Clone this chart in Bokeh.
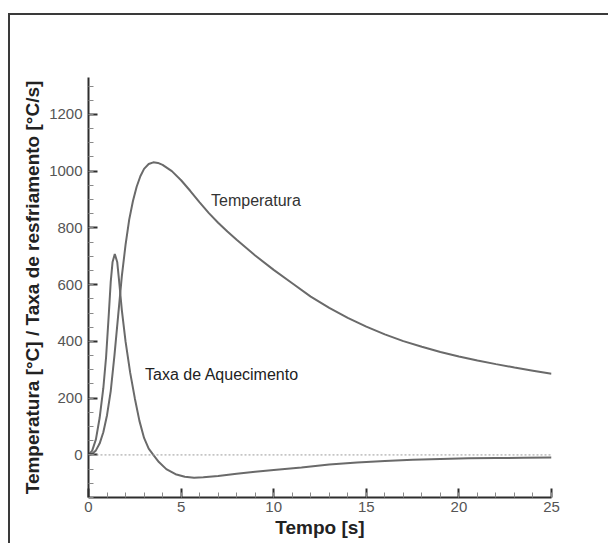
from bokeh.plotting import figure
from bokeh.models import Span, Range1d, SingleIntervalTicker, Label
from bokeh.embed import file_html
from bokeh.resources import INLINE

# Temperature curve [°C] vs time [s]
tempo_temp = [0, 0.2, 0.4, 0.6, 0.8, 1.0, 1.2, 1.4, 1.6, 1.8, 2.0, 2.2, 2.4, 2.6, 2.8,
              3.0, 3.25, 3.5, 3.75, 4.0, 4.5, 5.0, 5.5, 6.0, 6.5, 7.0, 7.5, 8.0, 9.0,
              10.0, 11.0, 12.0, 13.0, 14.0, 15.0, 16.0, 17.0, 18.0, 19.0, 20.0, 21.0,
              22.0, 23.0, 24.0, 25.0]
temperatura = [0, 4, 16, 40, 80, 140, 225, 350, 490, 630, 740, 830, 895, 945, 982,
               1008, 1025, 1031, 1029, 1022, 1000, 968, 930, 890, 852, 818, 787, 758, 703,
               652, 605, 558, 518, 483, 452, 425, 401, 381, 363, 347, 333,
               320, 308, 297, 286]

# Heating / cooling rate curve [°C/s] vs time [s]
tempo_taxa = [0, 0.2, 0.4, 0.6, 0.8, 0.95, 1.1, 1.2, 1.3, 1.42, 1.55, 1.65, 1.8, 2.0,
              2.25, 2.5, 2.75, 3.0, 3.25, 3.5, 3.8, 4.2, 4.7, 5.2, 5.7, 6.2, 7.0, 8.0,
              9.0, 10.0, 11.5, 13.0, 14.5, 16.0, 17.5, 19.0, 20.5, 22.0, 23.5, 25.0]
taxa = [0, 15, 55, 130, 235, 345, 500, 610, 680, 708, 680, 615, 510, 400,
        290, 200, 120, 60, 22, 0, -25, -50, -68, -77, -80, -79, -74, -66,
        -59, -53, -44, -34, -27, -21, -17, -14, -12, -11, -10, -9]

x_title = "Tempo [s]"
y_title = "Temperatura [°C] / Taxa de resfriamento [°C/s]"
label_temp = "Temperatura"
label_taxa = "Taxa de Aquecimento"

FONT = "Liberation Sans"
CURVE = "#6a6a6a"
AXIS = "#2e2e2e"

p = figure(width=600, height=530, output_backend="svg", toolbar_location=None,
           x_range=Range1d(0, 25), y_range=Range1d(-150, 1330),
           min_border_left=78, min_border_right=59, min_border_top=62,
           min_border_bottom=48)
p.styles = {"margin-top": "13px", "margin-left": "8px",
            "border-top": "2px solid #3a3a3a", "border-left": "2px solid #3a3a3a",
            "border-right": "0px none", "border-bottom": "0px none",
            "outline": "none", "overflow": "hidden"}
p.outline_line_color = None
p.xgrid.visible = False
p.ygrid.visible = False
p.background_fill_color = "white"
p.border_fill_color = "white"

p.xaxis.ticker = SingleIntervalTicker(interval=5, num_minor_ticks=5)
p.yaxis.ticker = SingleIntervalTicker(interval=200, num_minor_ticks=4)

for ax in (p.xaxis, p.yaxis):
    ax.axis_line_color = AXIS
    ax.axis_line_width = 2
    ax.major_tick_in = 9
    ax.major_tick_out = 0
    ax.major_tick_line_color = AXIS
    ax.major_tick_line_width = 2
    ax.minor_tick_in = 5
    ax.minor_tick_out = 0
    ax.minor_tick_line_color = "#8a8a8a"
    ax.minor_tick_line_width = 1
    ax.major_label_text_font = FONT
    ax.major_label_text_font_size = "15px"
    ax.major_label_text_color = "#555555"
    ax.axis_label_text_font = FONT
    ax.axis_label_text_font_style = "bold"
    ax.axis_label_text_color = "#222222"

p.xaxis.axis_label = x_title
p.xaxis.axis_label_text_font_size = "19px"
p.xaxis.major_label_standoff = 4
p.xaxis.axis_label_standoff = 2
p.yaxis.axis_label = y_title
p.yaxis.axis_label_text_font_size = "19px"
p.yaxis.major_label_standoff = 6
p.yaxis.axis_label_standoff = 3

p.add_layout(Span(location=0, dimension="width", line_color="#9a9a9a",
                  line_dash="2 2", line_width=1))

p.line(tempo_temp, temperatura, line_color=CURVE, line_width=2)
p.line(tempo_taxa, taxa, line_color=CURVE, line_width=2)

p.add_layout(Label(x=9.04, y=896, text=label_temp, text_align="center",
                   text_baseline="middle", text_font=FONT, text_font_size="16px",
                   text_color="#333333"))
p.add_layout(Label(x=7.21, y=285, text=label_taxa, text_align="center",
                   text_baseline="middle", text_font=FONT, text_font_size="16px",
                   text_color="#222222"))

open("out.html", "w").write(file_html(p, INLINE))
